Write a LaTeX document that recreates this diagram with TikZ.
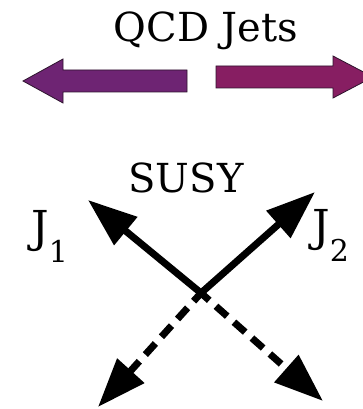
\documentclass[tikz,border=0pt]{standalone}
\usepackage{fontspec}
\setmainfont{DejaVu Serif}
\usetikzlibrary{arrows.meta}
\definecolor{qcdleft}{RGB}{110, 36, 115}
\definecolor{qcdright}{RGB}{135, 30, 98}
\definecolor{rim}{RGB}{45, 20, 45}
\newcommand{\jetname}[1]{J\lower20pt\hbox{\fontsize{30}{36}\selectfont #1}}

\begin{document}
\begin{tikzpicture}[x=1pt, y=-1pt,
    fat/.style={draw=rim, line width=0.8pt},
    jet/.style={-{Triangle[length=49pt, width=35pt]}, line width=7pt},
    lost/.style={jet, dash pattern=on 15pt off 9pt, dash phase=4pt}]

    \useasboundingbox (0, 0) rectangle (363, 409);

    % back-to-back QCD jets
    \node[anchor=base, font=\fontsize{40}{48}\selectfont] (qcd) at (206, 42) {QCD Jets};

    \filldraw[fat, fill=qcdleft] (23, 81) -- (63, 59) -- (63, 70) -- (187, 70)
        -- (187, 92) -- (63, 92) -- (63, 103) -- cycle;
    \filldraw[fat, fill=qcdright] (373, 77) -- (333, 56) -- (333, 66) -- (216, 66)
        -- (216, 88) -- (333, 88) -- (333, 98) -- cycle;

    % SUSY decay
    \node[anchor=base, font=\fontsize{40}{48}\selectfont] (susy) at (186, 192) {SUSY};
    \node[anchor=base west, inner sep=0pt, font=\fontsize{44}{52}\selectfont] (j1) at (31, 242) {\jetname{1}};
    \node[anchor=base west, inner sep=0pt, font=\fontsize{44}{52}\selectfont] (j2) at (312, 241) {\jetname{2}};

    \coordinate (v) at (201, 293);
    \coordinate (t1) at (88, 200);
    \coordinate (t2) at (315, 192);
    \coordinate (m1) at (98, 407);
    \coordinate (m2) at (323, 401);

    \draw[jet] (v) -- (t1);
    \draw[jet] (v) -- (t2);
    \draw[lost] (v) -- (m1);
    \draw[lost] (v) -- (m2);

\end{tikzpicture}
\end{document}
